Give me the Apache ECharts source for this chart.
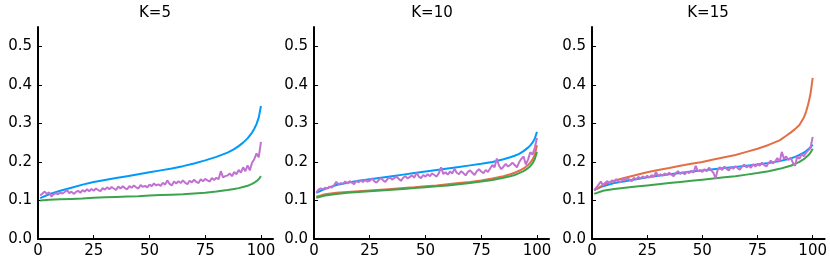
<!DOCTYPE html>
<html><head><meta charset="utf-8">
<script src="https://cdn.jsdelivr.net/npm/echarts@6/dist/echarts.min.js"></script>
<style>html,body{margin:0;padding:0;background:#fff}#c{width:830px;height:267px}</style>
</head><body><div id="c"></div>
<script>
const titles = ['K=5', 'K=10', 'K=15'];
const xTicks = [0, 25, 50, 75, 100];
const yTicks = [0, 0.1, 0.2, 0.3, 0.4, 0.5];
// x positions for the smooth curves
const xsSmooth = [1,5,10,15,20,25,30,35,40,45,50,55,60,65,70,75,80,85,88,90,92,94,96,97,98,99,100];

// K=5
const k5Blue  = [.106,.116,.125,.133,.141,.148,.153,.158,.163,.168,.173,.178,.183,.189,.196,.204,.213,.224,.233,.241,.250,.261,.276,.286,.298,.315,.345];
const k5Green = [.100,.102,.103,.104,.105,.107,.108,.109,.110,.111,.113,.114,.115,.116,.118,.120,.123,.127,.130,.132,.135,.138,.143,.146,.150,.155,.163];
const k5Purple = [
 .113,.118,.123,.117,.121,.110,.116,.119,.116,.120,
 .118,.122,.127,.119,.123,.117,.122,.125,.120,.127,
 .123,.129,.124,.130,.125,.131,.127,.124,.132,.128,
 .134,.129,.135,.131,.127,.136,.131,.137,.132,.129,
 .137,.133,.139,.134,.131,.140,.135,.138,.134,.141,
 .137,.144,.139,.142,.138,.146,.141,.152,.143,.139,
 .149,.144,.150,.145,.152,.146,.142,.151,.147,.154,
 .148,.145,.155,.150,.156,.152,.149,.158,.153,.159,
 .155,.176,.160,.163,.165,.170,.163,.174,.168,.179,
 .172,.186,.176,.191,.178,.198,.207,.222,.212,.252];

// K=10
const k10Blue   = [.120,.130,.140,.146,.151,.155,.159,.163,.167,.171,.175,.179,.183,.187,.191,.195,.200,.207,.212,.216,.221,.228,.237,.243,.250,.260,.278];
const k10Orange = [.110,.116,.120,.122,.124,.126,.128,.130,.132,.134,.137,.139,.142,.145,.148,.152,.157,.163,.168,.172,.177,.183,.192,.198,.206,.218,.243];
const k10Green  = [.107,.113,.117,.120,.122,.124,.126,.128,.130,.132,.134,.137,.139,.142,.145,.149,.153,.159,.163,.166,.171,.176,.184,.189,.196,.207,.226];
const k10Purple = [
 .120,.128,.131,.129,.133,.131,.136,.133,.140,.148,
 .142,.145,.143,.149,.144,.150,.146,.142,.151,.147,
 .152,.148,.153,.149,.151,.157,.150,.146,.153,.158,
 .152,.148,.156,.160,.154,.158,.162,.156,.151,.159,
 .163,.157,.161,.165,.159,.172,.162,.158,.166,.162,
 .168,.163,.170,.166,.162,.171,.186,.169,.173,.167,
 .175,.170,.182,.172,.168,.176,.171,.165,.174,.178,
 .172,.166,.176,.181,.175,.171,.179,.174,.183,.192,
 .186,.209,.190,.181,.188,.195,.188,.192,.198,.192,
 .186,.199,.208,.214,.193,.206,.225,.219,.236,.262];

// K=15
const k15Blue   = [.127,.137,.145,.150,.155,.160,.164,.168,.171,.175,.178,.181,.184,.187,.190,.193,.197,.202,.206,.209,.213,.218,.224,.228,.233,.238,.245];
const k15Orange = [.127,.140,.151,.159,.166,.173,.179,.184,.190,.195,.200,.206,.212,.218,.226,.234,.244,.256,.268,.276,.285,.296,.315,.330,.350,.376,.418];
const k15Green  = [.117,.125,.130,.133,.136,.139,.142,.145,.148,.151,.154,.157,.160,.163,.167,.171,.176,.182,.187,.190,.195,.200,.207,.212,.217,.224,.234];
const k15Purple = [
 .127,.134,.141,.149,.139,.146,.150,.144,.152,.148,
 .155,.150,.147,.156,.152,.158,.154,.150,.159,.155,
 .161,.157,.162,.158,.164,.159,.166,.161,.174,.163,
 .168,.164,.170,.166,.172,.167,.163,.171,.176,.169,
 .173,.168,.175,.171,.177,.172,.190,.175,.179,.174,
 .181,.176,.185,.178,.172,.157,.181,.186,.179,.188,
 .182,.178,.187,.182,.189,.184,.180,.188,.193,.186,
 .190,.185,.194,.188,.195,.190,.198,.192,.188,.197,
 .203,.196,.201,.210,.200,.226,.208,.214,.205,.211,
 .198,.190,.214,.208,.220,.215,.224,.230,.236,.265];

const COLORS = {blue:'#009AFA', orange:'#E26F46', green:'#3DA44D', purple:'#C271D2'};
const FONT = 'DejaVu Sans';

const panels = [
  {left:38, width:235, cx:155, lines:[['blue',k5Blue],['green',k5Green]], purple:k5Purple},
  {left:314, width:235, cx:432, lines:[['blue',k10Blue],['orange',k10Orange],['green',k10Green]], purple:k10Purple},
  {left:592, width:234, cx:708, lines:[['blue',k15Blue],['orange',k15Orange],['green',k15Green]], purple:k15Purple}
];

const grid = [], xAxis = [], yAxis = [], series = [], graphic = [];
panels.forEach((p, i) => {
  grid.push({left:p.left, width:p.width, top:27, height:212, containLabel:false});
  xAxis.push({type:'value', gridIndex:i, min:0, max:105.4,
    axisLine:{show:true, onZero:false, lineStyle:{color:'#000', width:2}},
    axisTick:{show:true, inside:true, length:4, customValues:xTicks, lineStyle:{color:'#000', width:1}},
    axisLabel:{customValues:xTicks, color:'#000', fontSize:15, fontFamily:FONT, margin:5},
    splitLine:{show:false}});
  yAxis.push({type:'value', gridIndex:i, min:0, max:0.55,
    axisLine:{show:true, onZero:false, lineStyle:{color:'#000', width:2}},
    axisTick:{show:true, inside:true, length:4, customValues:yTicks, lineStyle:{color:'#000', width:1}},
    axisLabel:{customValues:yTicks, color:'#000', fontSize:15, fontFamily:FONT, margin:6,
      formatter: v => v.toFixed(1)},
    splitLine:{show:false}});
  p.lines.forEach(([c, arr]) => {
    series.push({type:'line', xAxisIndex:i, yAxisIndex:i, showSymbol:false, symbol:'none',
      data: xsSmooth.map((x, j) => [x, arr[j]]),
      lineStyle:{color:COLORS[c], width:2}, itemStyle:{color:COLORS[c]}});
  });
  series.push({type:'line', xAxisIndex:i, yAxisIndex:i, showSymbol:false, symbol:'none',
    data: p.purple.map((v, j) => [j + 1, v]),
    lineStyle:{color:COLORS.purple, width:2}, itemStyle:{color:COLORS.purple}});
  graphic.push({type:'text', x:p.cx, y:13,
    style:{text:titles[i], fill:'#000', font:'15px "DejaVu Sans"', textAlign:'center', textVerticalAlign:'middle'}});
});

const chart = echarts.init(document.getElementById('c'));
chart.setOption({animation:false, backgroundColor:'#fff', grid, xAxis, yAxis, series, graphic});
</script></body></html>
